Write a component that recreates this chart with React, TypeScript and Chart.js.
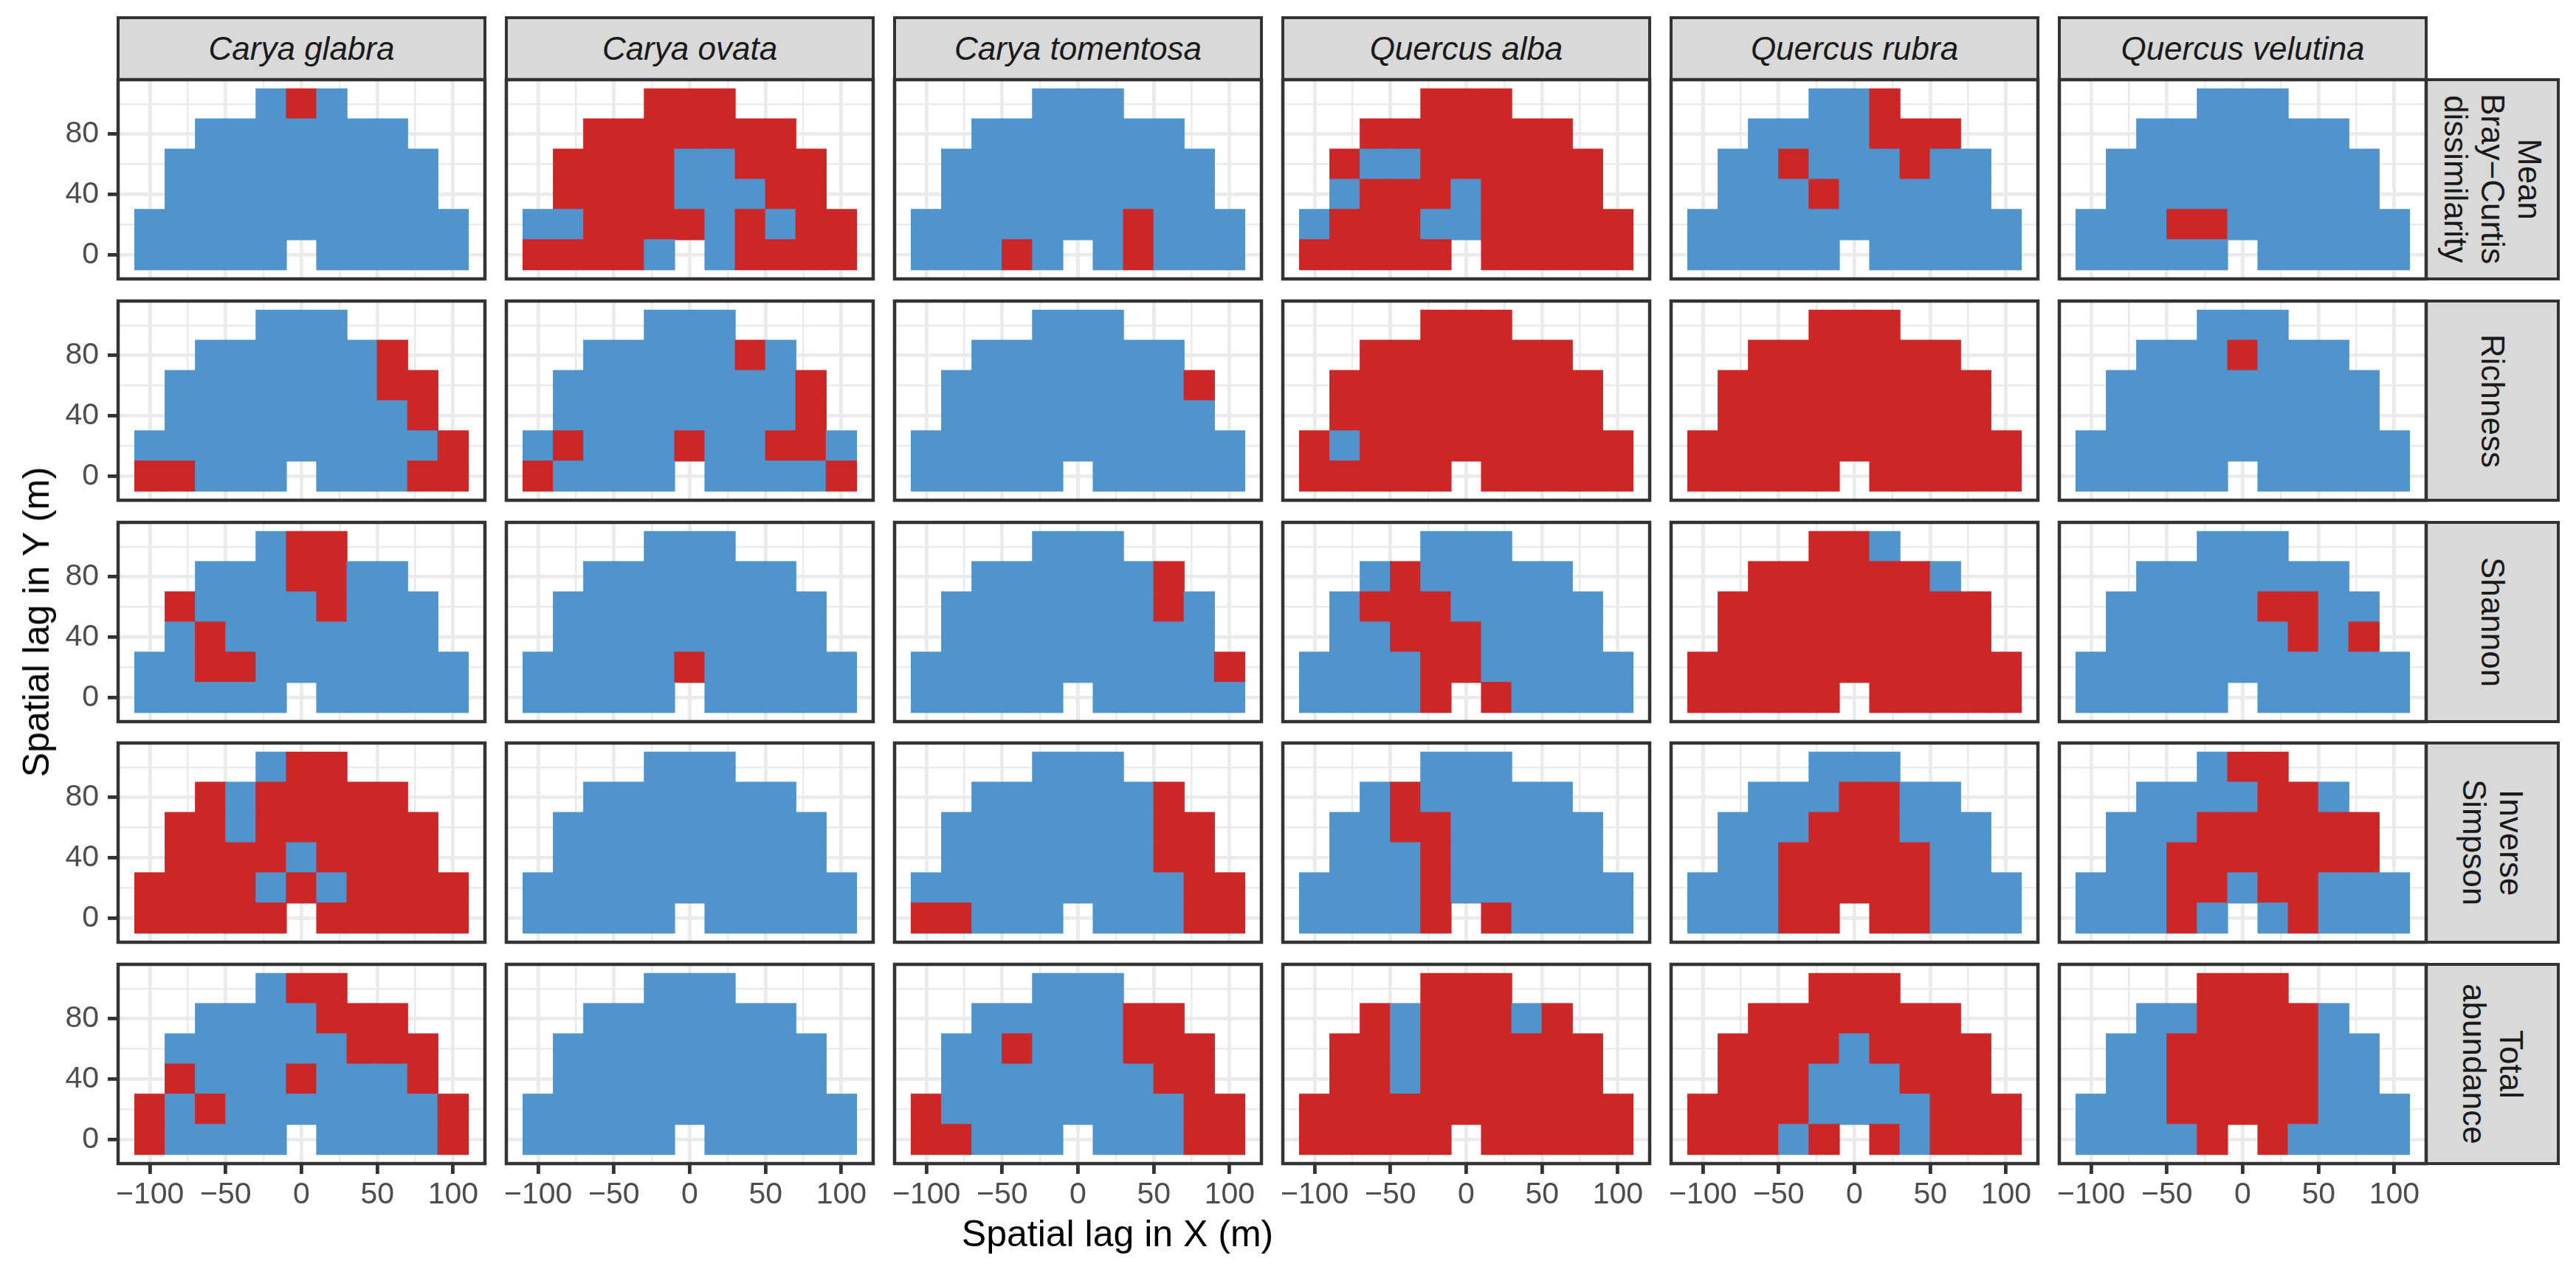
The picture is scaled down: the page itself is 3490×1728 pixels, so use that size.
import React, { useEffect, useRef } from "react";
import { Chart, registerables } from "chart.js";

Chart.register(...registerables);

// ---------------- data ----------------
const SPECIES = ["Carya glabra", "Carya ovata", "Carya tomentosa", "Quercus alba", "Quercus rubra", "Quercus velutina"];
const METRICS = ["Mean\nBray\u2212Curtis\ndissimilarity", "Richness", "Shannon", "Inverse\nSimpson", "Total\nabundance"];

const X_LAGS = [-100, -80, -60, -40, -20, 0, 20, 40, 60, 80, 100];
const Y_LAGS = [100, 80, 60, 40, 20, 0]; // top row first

const X_MAJOR = [-100, -50, 0, 50, 100];
const X_TICK_LABELS = ["\u2212100", "\u221250", "0", "50", "100"];
const X_MINOR = [-75, -25, 25, 75];
const Y_MAJOR = [0, 40, 80];
const Y_TICK_LABELS = ["0", "40", "80"];
const Y_MINOR = [20, 60, 100];
const X_LIMITS = [-121, 121];
const Y_LIMITS = [-16, 116];

const X_TITLE = "Spatial lag in X (m)";
const Y_TITLE = "Spatial lag in Y (m)";

// cell class per lag: R = red, B = blue, . = no lag pair (rows y=100 .. y=0, cols x=-100 .. 100)
const BRAY_CURTIS = [
  ["....BRB....", "..BBBBBBB..", ".BBBBBBBBB.", ".BBBBBBBBB.", "BBBBBBBBBBB", "BBBBB.BBBBB"],
  ["....RRR....", "..RRRRRRR..", ".RRRRBBRRR.", ".RRRRBBBRR.", "BBRRRRBRBRR", "RRRRB.BRRRR"],
  ["....BBB....", "..BBBBBBB..", ".BBBBBBBBB.", ".BBBBBBBBB.", "BBBBBBBRBBB", "BBBRB.BRBBB"],
  ["....RRR....", "..RRRRRRR..", ".RBBRRRRRR.", ".BRRRBRRRR.", "BRRRBBRRRRR", "RRRRR.RRRRR"],
  ["....BBR....", "..BBBBRRR..", ".BBRBBBRBB.", ".BBBRBBBBB.", "BBBBBBBBBBB", "BBBBB.BBBBB"],
  ["....BBB....", "..BBBBBBB..", ".BBBBBBBBB.", ".BBBBBBBBB.", "BBBRRBBBBBB", "BBBBB.BBBBB"],
];
const RICHNESS = [
  ["....BBB....", "..BBBBBBR..", ".BBBBBBBRR.", ".BBBBBBBBR.", "BBBBBBBBBBR", "RRBBB.BBBRR"],
  ["....BBB....", "..BBBBBRB..", ".BBBBBBBBR.", ".BBBBBBBBR.", "BRBBBRBBRRB", "RBBBB.BBBBR"],
  ["....BBB....", "..BBBBBBB..", ".BBBBBBBBR.", ".BBBBBBBBB.", "BBBBBBBBBBB", "BBBBB.BBBBB"],
  ["....RRR....", "..RRRRRRR..", ".RRRRRRRRR.", ".RRRRRRRRR.", "RBRRRRRRRRR", "RRRRR.RRRRR"],
  ["....RRR....", "..RRRRRRR..", ".RRRRRRRRR.", ".RRRRRRRRR.", "RRRRRRRRRRR", "RRRRR.RRRRR"],
  ["....BBB....", "..BBBRBBB..", ".BBBBBBBBB.", ".BBBBBBBBB.", "BBBBBBBBBBB", "BBBBB.BBBBB"],
];
const SHANNON = [
  ["....BRR....", "..BBBRRBB..", ".RBBBBRBBB.", ".BRBBBBBBB.", "BBRRBBBBBBB", "BBBBB.BBBBB"],
  ["....BBB....", "..BBBBBBB..", ".BBBBBBBBB.", ".BBBBBBBBB.", "BBBBBRBBBBB", "BBBBB.BBBBB"],
  ["....BBB....", "..BBBBBBR..", ".BBBBBBBRB.", ".BBBBBBBBB.", "BBBBBBBBBBR", "BBBBB.BBBBB"],
  ["....BBB....", "..BRBBBBB..", ".BRRRBBBBB.", ".BBRRRBBBB.", "BBBBRRBBBBB", "BBBBR.RBBBB"],
  ["....RRB....", "..RRRRRRB..", ".RRRRRRRRR.", ".RRRRRRRRR.", "RRRRRRRRRRR", "RRRRR.RRRRR"],
  ["....BBB....", "..BBBBBBB..", ".BBBBBRRBB.", ".BBBBBBRBR.", "BBBBBBBBBBB", "BBBBB.BBBBB"],
];
const INV_SIMPSON = [
  ["....BRR....", "..RBRRRRR..", ".RRBRRRRRR.", ".RRRRBRRRR.", "RRRRBRBRRRR", "RRRRR.RRRRR"],
  ["....BBB....", "..BBBBBBB..", ".BBBBBBBBB.", ".BBBBBBBBB.", "BBBBBBBBBBB", "BBBBB.BBBBB"],
  ["....BBB....", "..BBBBBBR..", ".BBBBBBBRR.", ".BBBBBBBRR.", "BBBBBBBBBRR", "RRBBB.BBBRR"],
  ["....BBB....", "..BRBBBBB..", ".BBRRBBBBB.", ".BBBRBBBBB.", "BBBBRBBBBBB", "BBBBR.RBBBB"],
  ["....BBB....", "..BBBRRBB..", ".BBBRRRBBB.", ".BBRRRRRBB.", "BBBRRRRRBBB", "BBBRR.RRBBB"],
  ["....BRR....", "..BBBBRRB..", ".BBBRRRRRR.", ".BBRRRRRRR.", "BBBRRBRRBBB", "BBBRB.BRBBB"],
];
const TOTAL_ABUNDANCE = [
  ["....BRR....", "..BBBBRRR..", ".BBBBBBRRR.", ".RBBBRBBBR.", "RBRBBBBBBBR", "RBBBB.BBBBR"],
  ["....BBB....", "..BBBBBBB..", ".BBBBBBBBB.", ".BBBBBBBBB.", "BBBBBBBBBBB", "BBBBB.BBBBB"],
  ["....BBB....", "..BBBBBRR..", ".BBRBBBRRR.", ".BBBBBBBRR.", "RBBBBBBBBRR", "RRBBB.BBBRR"],
  ["....RRR....", "..RBRRRBR..", ".RRBRRRRRR.", ".RRBRRRRRR.", "RRRRRRRRRRR", "RRRRR.RRRRR"],
  ["....RRR....", "..RRRRRRR..", ".RRRRBRRRR.", ".RRRBBBRRR.", "RRRRBBBBRRR", "RRRBR.RBRRR"],
  ["....RRR....", "..BBRRRRB..", ".BBRRRRRBB.", ".BBRRRRRBB.", "BBBRRRRRBBB", "BBBBR.RBBBB"],
];
const GRIDS = [BRAY_CURTIS, RICHNESS, SHANNON, INV_SIMPSON, TOTAL_ABUNDANCE];

// ---------------- styles / layout ----------------
const FILL: Record<string, string> = { R: "#CD2626", B: "#4F94CD" };
const FONT = "'Liberation Sans', Arial, Helvetica, sans-serif";
const GRID_COLOR = "#EBEBEB";
const AXIS_COLOR = "#333333";
const TICK_TEXT = "#4D4D4D";
const STRIP_FILL = "#D9D9D9";
const MAJOR_W = 4.8;
const MINOR_W = 2.4;
const FRAME_W = 4.5;
const TICK_LEN = 14;

const COL_X = [160, 686, 1212, 1738, 2264, 2790];
const ROW_Y = [108, 408, 708, 1007, 1307];
const PANEL_W = 497;
const PANEL_H = 270;
const STRIP_TOP = 24;
const RIGHT_STRIP_W = 179;
const PAD_LR = 12;
const PAD_V = 42;
const Y_AXIS_W = 110;
const X_AXIS_H = 80;
const X_TITLE_CX = 1514;
const X_TITLE_CY = 1672;
const Y_TITLE_CX = 49;

const framePlugin = {
  id: "panelFrame",
  afterDraw(chart: any) {
    const { ctx, chartArea: a } = chart;
    ctx.save();
    ctx.strokeStyle = AXIS_COLOR;
    ctx.lineWidth = FRAME_W;
    ctx.strokeRect(a.left, a.top, a.right - a.left, a.bottom - a.top);
    ctx.restore();
  },
};

function Panel({ grid, row, col }: { grid: string[]; row: number; col: number }) {
  const ref = useRef<HTMLCanvasElement>(null);
  const showY = col === 0;
  const showX = row === METRICS.length - 1;
  const left = COL_X[col] - PAD_LR - (showY ? Y_AXIS_W : 0);
  const top = ROW_Y[row] - PAD_V;
  const width = PANEL_W + 2 * PAD_LR + (showY ? Y_AXIS_W : 0);
  const height = PANEL_H + 2 * PAD_V + (showX ? X_AXIS_H : 0);

  useEffect(() => {
    if (!ref.current) return;
    const half = (Y_LAGS[0] - Y_LAGS[1]) / 2;
    const data: any[] = [];
    const colors: string[] = [];
    grid.forEach((line, ri) => {
      line.split("").forEach((ch, ci) => {
        if (!FILL[ch]) return;
        data.push({ x: X_LAGS[ci], y: [Y_LAGS[ri] - half, Y_LAGS[ri] + half] });
        colors.push(FILL[ch]);
      });
    });
    const xTicks = [...X_MAJOR, ...X_MINOR].sort((a, b) => a - b);
    const yTicks = [...Y_MAJOR, ...Y_MINOR].sort((a, b) => a - b);
    const chart = new Chart(ref.current, {
      type: "bar",
      data: {
        datasets: [
          {
            data,
            backgroundColor: colors,
            borderWidth: 0,
            barPercentage: 1,
            categoryPercentage: 1,
            inflateAmount: 0.6,
          } as any,
        ],
      },
      options: {
        animation: false,
        responsive: false,
        devicePixelRatio: 1,
        events: [],
        layout: { padding: { left: PAD_LR, right: PAD_LR, top: PAD_V, bottom: PAD_V } },
        plugins: { legend: { display: false }, tooltip: { enabled: false }, title: { display: false } },
        scales: {
          x: {
            type: "linear",
            min: X_LIMITS[0],
            max: X_LIMITS[1],
            offset: false,
            afterBuildTicks: (axis: any) => {
              axis.ticks = xTicks.map((value) => ({ value }));
            },
            afterFit: (axis: any) => {
              axis.height = showX ? X_AXIS_H : 0;
            },
            border: { display: false },
            grid: {
              offset: false,
              color: GRID_COLOR,
              lineWidth: (c: any) => (c.tick && X_MAJOR.includes(c.tick.value) ? MAJOR_W : MINOR_W),
              drawTicks: showX,
              tickLength: TICK_LEN,
              tickWidth: MAJOR_W,
              tickColor: (c: any) => (c.tick && X_MAJOR.includes(c.tick.value) ? AXIS_COLOR : "rgba(0,0,0,0)"),
            },
            ticks: {
              display: showX,
              autoSkip: false,
              maxRotation: 0,
              minRotation: 0,
              padding: 4,
              color: TICK_TEXT,
              font: { family: FONT, size: 41 },
              callback: (v: any) => {
                const i = X_MAJOR.indexOf(Number(v));
                return i >= 0 ? X_TICK_LABELS[i] : "";
              },
            },
          },
          y: {
            type: "linear",
            min: Y_LIMITS[0],
            max: Y_LIMITS[1],
            afterBuildTicks: (axis: any) => {
              axis.ticks = yTicks.map((value) => ({ value }));
            },
            afterFit: (axis: any) => {
              axis.width = showY ? Y_AXIS_W : 0;
            },
            border: { display: false },
            grid: {
              color: GRID_COLOR,
              lineWidth: (c: any) => (c.tick && Y_MAJOR.includes(c.tick.value) ? MAJOR_W : MINOR_W),
              drawTicks: showY,
              tickLength: TICK_LEN,
              tickWidth: MAJOR_W,
              tickColor: (c: any) => (c.tick && Y_MAJOR.includes(c.tick.value) ? AXIS_COLOR : "rgba(0,0,0,0)"),
            },
            ticks: {
              display: showY,
              autoSkip: false,
              padding: 12,
              color: TICK_TEXT,
              font: { family: FONT, size: 41 },
              callback: (v: any) => {
                const i = Y_MAJOR.indexOf(Number(v));
                return i >= 0 ? Y_TICK_LABELS[i] : "";
              },
            },
          },
        },
      } as any,
      plugins: [framePlugin],
    });
    return () => chart.destroy();
  }, []);

  return (
    <canvas
      ref={ref}
      width={width}
      height={height}
      style={{ position: "absolute", left, top, width, height }}
    />
  );
}

export default function App() {
  const bw = 4.5;
  return (
    <div
      style={{
        position: "absolute",
        left: 0,
        top: 0,
        width: 3490,
        height: 1728,
        background: "#FFFFFF",
        overflow: "hidden",
        fontFamily: FONT,
      }}
    >
      {SPECIES.map((sp, c) => (
        <div
          key={"ts" + c}
          style={{
            position: "absolute",
            boxSizing: "border-box",
            left: COL_X[c] - bw / 2,
            top: STRIP_TOP - bw / 2,
            width: PANEL_W + bw,
            height: ROW_Y[0] - STRIP_TOP + bw,
            border: `${bw}px solid ${AXIS_COLOR}`,
            background: STRIP_FILL,
            display: "flex",
            alignItems: "center",
            justifyContent: "center",
            fontStyle: "italic",
            fontSize: 44,
            color: "#1A1A1A",
            whiteSpace: "nowrap",
          }}
        >
          {sp}
        </div>
      ))}
      {METRICS.map((m, r) => (
        <div
          key={"rs" + r}
          style={{
            position: "absolute",
            boxSizing: "border-box",
            left: COL_X[COL_X.length - 1] + PANEL_W - bw / 2,
            top: ROW_Y[r] - bw / 2,
            width: RIGHT_STRIP_W + bw,
            height: PANEL_H + bw,
            border: `${bw}px solid ${AXIS_COLOR}`,
            background: STRIP_FILL,
            display: "flex",
            alignItems: "center",
            justifyContent: "center",
          }}
        >
          <div
            style={{
              writingMode: "vertical-rl",
              whiteSpace: "pre",
              textAlign: "center",
              fontSize: 44,
              lineHeight: "50px",
              color: "#1A1A1A",
            }}
          >
            {m}
          </div>
        </div>
      ))}
      {GRIDS.map((g, r) =>
        SPECIES.map((_, c) => <Panel key={r + "-" + c} grid={g[c]} row={r} col={c} />)
      )}
      <div
        style={{
          position: "absolute",
          left: X_TITLE_CX,
          top: X_TITLE_CY,
          transform: "translate(-50%, -50%)",
          fontSize: 50,
          color: "#000000",
          whiteSpace: "nowrap",
        }}
      >
        {X_TITLE}
      </div>
      <div
        style={{
          position: "absolute",
          left: Y_TITLE_CX,
          top: (ROW_Y[0] + ROW_Y[ROW_Y.length - 1] + PANEL_H) / 2,
          transform: "translate(-50%, -50%) rotate(-90deg)",
          fontSize: 50,
          color: "#000000",
          whiteSpace: "nowrap",
        }}
      >
        {Y_TITLE}
      </div>
    </div>
  );
}
